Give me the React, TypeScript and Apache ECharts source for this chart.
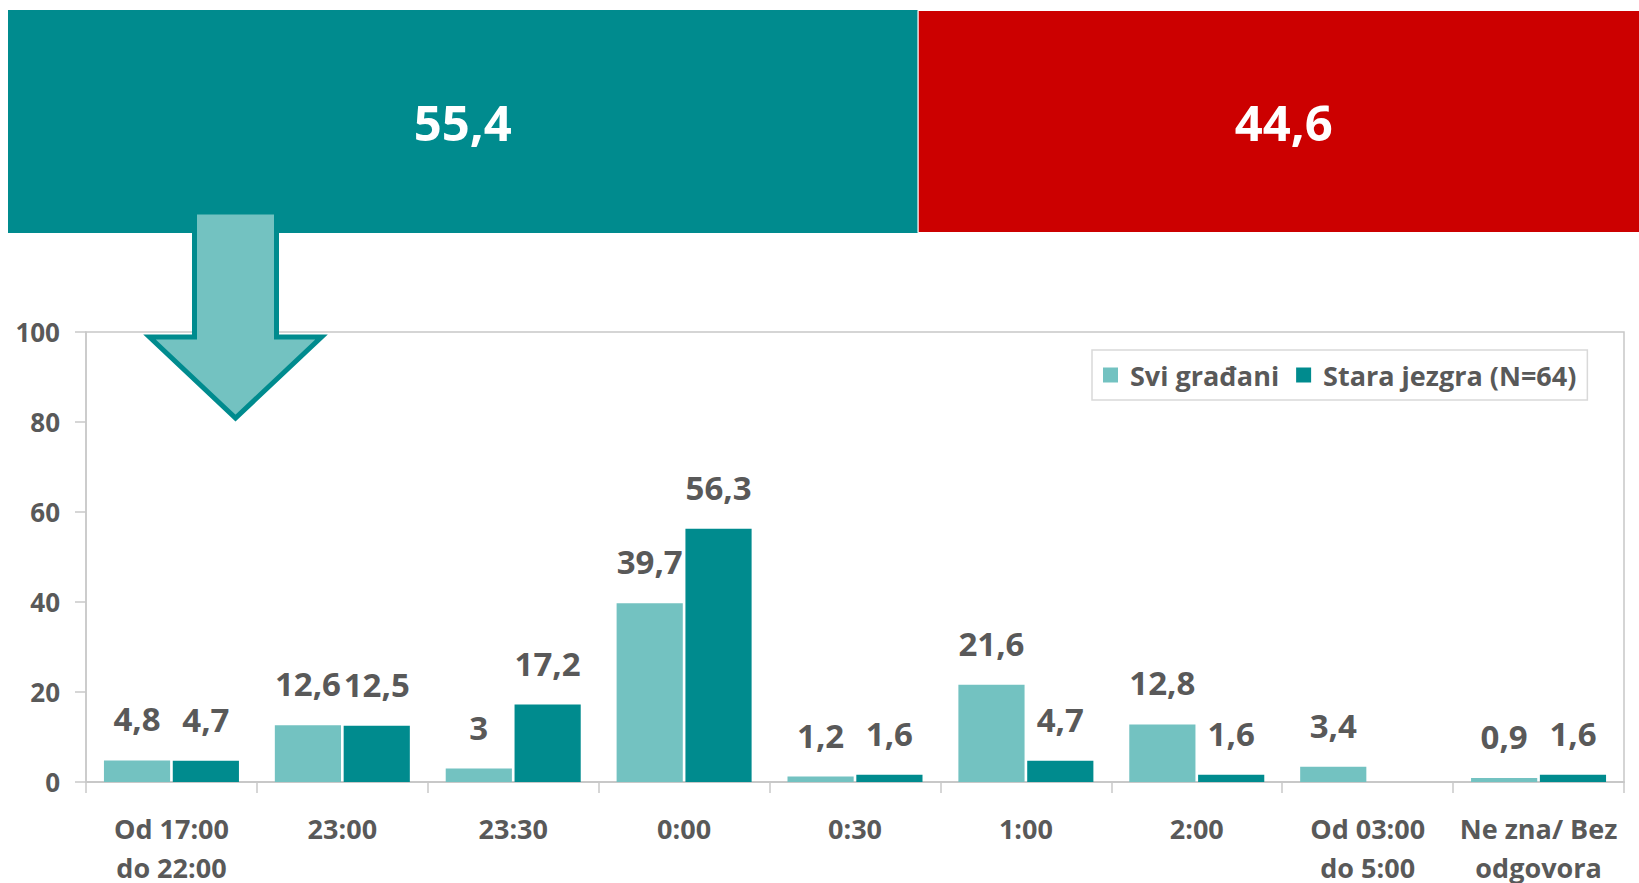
import React, { useEffect, useRef } from "react";
import * as echarts from "echarts";

const categories = [
  "Od 17:00\ndo 22:00",
  "23:00",
  "23:30",
  "0:00",
  "0:30",
  "1:00",
  "2:00",
  "Od 03:00\ndo 5:00",
  "Ne zna/ Bez\nodgovora",
];
const seriesNames = ["Svi građani", "Stara jezgra (N=64)"];
const sviGradjani = [4.8, 12.6, 3, 39.7, 1.2, 21.6, 12.8, 3.4, 0.9];
const staraJezgra = [4.7, 12.5, 17.2, 56.3, 1.6, 4.7, 1.6, null, 1.6];
const splitValues = [55.4, 44.6];
const yMin = 0;
const yMax = 100;
const yStep = 20;

const LIGHT = "#73C2C1";
const DARK = "#008B8E";
const RED = "#CC0000";
const TEXT = "#595959";
const GRAYLINE = "#c8c8c8";
const FONT = "Open Sans";

const fmt = (v: any) => (v === null || v === undefined ? "" : String(v).replace(".", ","));

export default function App() {
  const ref = useRef<HTMLDivElement>(null);
  useEffect(() => {
    if (!ref.current) return;
    const chart = echarts.init(ref.current, undefined, { renderer: "svg" });
    const barLabel = {
      show: true,
      position: "top",
      distance: 25,
      color: TEXT,
      fontFamily: FONT,
      fontWeight: "bold",
      fontSize: 33,
      formatter: (p: any) => fmt(p.value),
    };
    const splitLabel = {
      show: true,
      position: "inside",
      color: "#ffffff",
      fontFamily: FONT,
      fontWeight: "bold",
      fontSize: 49,
      formatter: (p: any) => fmt(p.value),
    };
    chart.setOption({
      animation: false,
      backgroundColor: "#ffffff",
      textStyle: { fontFamily: FONT },
      legend: {
        data: seriesNames,
        left: 1092,
        top: 350,
        orient: "horizontal",
        itemWidth: 15,
        itemHeight: 15,
        itemGap: 17,
        padding: [8, 11, 8, 11],
        borderColor: "#d9d9d9",
        borderWidth: 1.5,
        icon: "rect",
        textStyle: {
          color: TEXT,
          fontFamily: FONT,
          fontWeight: "bold",
          fontSize: 27,
          lineHeight: 34,
          padding: [0, 0, 0, 7],
        },
      },
      grid: [
        {
          left: 86,
          top: 332,
          width: 1538,
          height: 450,
          show: true,
          borderColor: GRAYLINE,
          borderWidth: 1.5,
          backgroundColor: "transparent",
          outerBoundsMode: "none",
          containLabel: false,
        },
        {
          left: 8,
          top: 10,
          width: 1631,
          height: 223,
          outerBoundsMode: "none",
        },
      ],
      xAxis: [
        {
          type: "category",
          gridIndex: 0,
          data: categories,
          axisLine: { show: true, lineStyle: { color: GRAYLINE, width: 2 } },
          axisTick: { show: true, length: 11, lineStyle: { color: GRAYLINE, width: 1.5 } },
          axisLabel: {
            color: TEXT,
            fontFamily: FONT,
            fontWeight: "bold",
            fontSize: 27,
            lineHeight: 39,
            margin: 27,
            interval: 0,
          },
        },
        {
          type: "value",
          gridIndex: 1,
          min: 0,
          max: 99.33,
          show: false,
        },
      ],
      yAxis: [
        {
          type: "value",
          gridIndex: 0,
          min: yMin,
          max: yMax,
          interval: yStep,
          splitLine: { show: false },
          axisLine: { show: true, lineStyle: { color: GRAYLINE, width: 1.5 } },
          axisTick: { show: true, length: 11, lineStyle: { color: GRAYLINE, width: 1.5 } },
          axisLabel: {
            color: TEXT,
            fontFamily: FONT,
            fontWeight: "bold",
            fontSize: 26,
            margin: 26,
          },
        },
        {
          type: "category",
          gridIndex: 1,
          data: ["split"],
          show: false,
        },
      ],
      series: [
        {
          name: seriesNames[0],
          type: "bar",
          xAxisIndex: 0,
          yAxisIndex: 0,
          data: sviGradjani,
          itemStyle: { color: LIGHT },
          barGap: "4%",
          barCategoryGap: "21%",
          label: barLabel,
        },
        {
          name: seriesNames[1],
          type: "bar",
          xAxisIndex: 0,
          yAxisIndex: 0,
          data: staraJezgra,
          itemStyle: { color: DARK },
          barGap: "4%",
          barCategoryGap: "21%",
          label: barLabel,
        },
        {
          name: "split-a",
          type: "bar",
          xAxisIndex: 1,
          yAxisIndex: 1,
          stack: "split",
          clip: false,
          data: [splitValues[0]],
          barCategoryGap: "0%",
          itemStyle: { color: DARK },
          label: splitLabel,
        },
        {
          name: "split-b",
          type: "bar",
          xAxisIndex: 1,
          yAxisIndex: 1,
          stack: "split",
          clip: false,
          data: [splitValues[1]],
          barCategoryGap: "0%",
          itemStyle: { color: RED, borderColor: "#ffffff", borderWidth: 1 },
          label: splitLabel,
        },
      ],
      graphic: [
        {
          type: "polygon",
          z: 100,
          shape: {
            points: [
              [194.5, 212],
              [276.5, 212],
              [276.5, 337],
              [321.5, 337],
              [235.5, 418],
              [149.5, 337],
              [194.5, 337],
            ],
          },
          style: {
            fill: LIGHT,
            stroke: DARK,
            lineWidth: 5,
            lineJoin: "miter",
          },
        },
      ],
    });
    return () => chart.dispose();
  }, []);
  return (
    <div
      ref={ref}
      style={{ position: "fixed", left: 0, top: 0, width: 1639, height: 883, background: "#fff" }}
    />
  );
}
